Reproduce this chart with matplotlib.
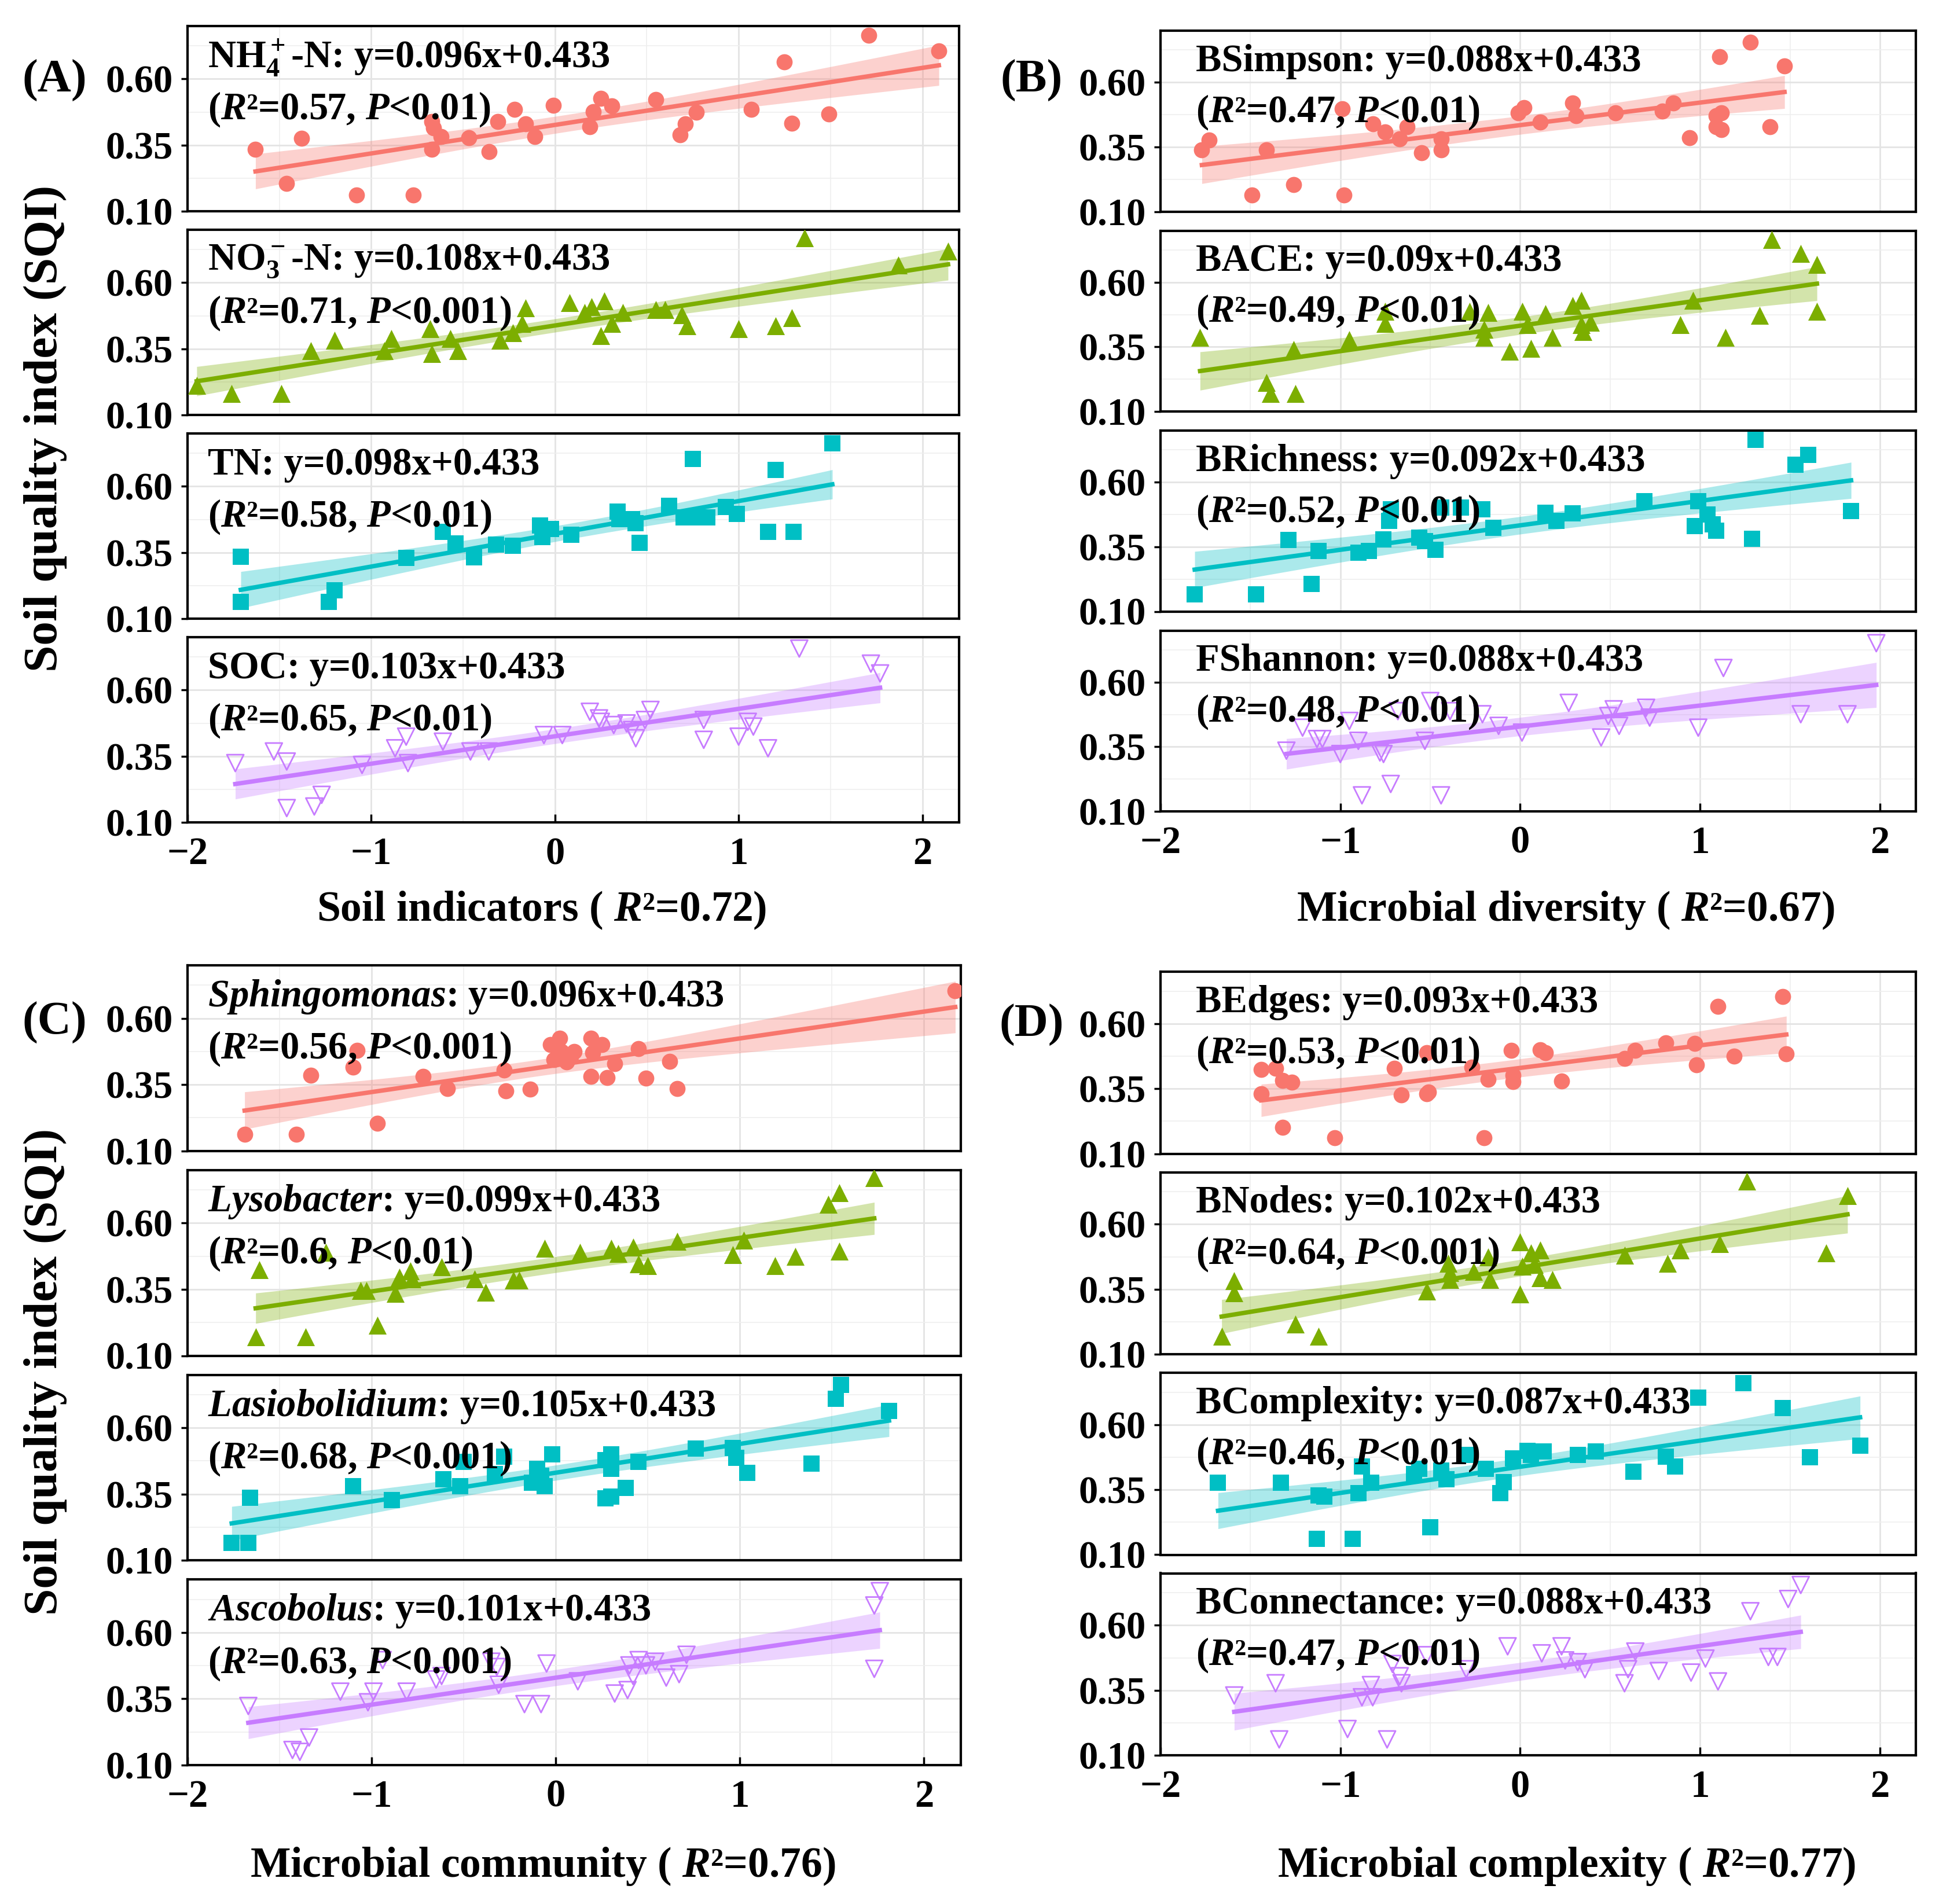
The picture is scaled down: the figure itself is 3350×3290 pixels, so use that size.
import matplotlib
matplotlib.use("Agg")
import matplotlib.pyplot as plt
import numpy as np

plt.rcParams['font.family'] = ['Liberation Serif', 'DejaVu Serif']
plt.rcParams['font.weight'] = 'bold'
plt.rcParams['mathtext.fontset'] = 'custom'
plt.rcParams['mathtext.rm'] = 'Liberation Serif:bold'
plt.rcParams['mathtext.it'] = 'Liberation Serif:italic:bold'
plt.rcParams['mathtext.bf'] = 'Liberation Serif:bold'

# ---- data (x = indicator score, y = SQI) ----
# (A) soil indicators
nh4_x = [-1.63, -1.46, -1.38, -1.08, -0.77, -0.67, -0.66, -0.62, -0.67, -0.47, -0.36, -0.31, -0.22, -0.16, -0.11,
         -0.01, 0.19, 0.21, 0.25, 0.31, 0.55, 0.68, 0.71, 0.77, 1.07, 1.25, 1.29, 1.49, 1.71, 2.09]
nh4_y = [0.335, 0.204, 0.375, 0.162, 0.162, 0.44, 0.414, 0.383, 0.335, 0.377, 0.325, 0.44, 0.484, 0.43, 0.383,
         0.50, 0.419, 0.477, 0.527, 0.498, 0.522, 0.389, 0.43, 0.475, 0.484, 0.664, 0.432, 0.467, 0.764, 0.705]
no3_x = [-1.95, -1.76, -1.49, -1.33, -1.20, -0.93, -0.89, -0.68, -0.67, -0.57, -0.53, -0.30, -0.23, -0.18, -0.16,
         0.08, 0.16, 0.20, 0.27, 0.25, 0.31, 0.37, 0.55, 0.60, 0.69, 0.72, 1.00, 1.20, 1.29, 1.36, 1.87, 2.14]
no3_y = [0.211, 0.18, 0.18, 0.342, 0.383, 0.342, 0.389, 0.425, 0.331, 0.389, 0.342, 0.383, 0.41, 0.446, 0.504,
         0.525, 0.488, 0.509, 0.53, 0.40, 0.446, 0.488, 0.499, 0.499, 0.478, 0.436, 0.425, 0.436, 0.467, 0.77, 0.666, 0.718]
tn_x = [-1.71, -1.71, -1.23, -1.20, -0.81, -0.61, -0.54, -0.44, -0.32, -0.23, -0.08, -0.07, -0.02, 0.09, 0.34,
        0.35, 0.42, 0.44, 0.46, 0.62, 0.70, 0.75, 0.76, 0.83, 0.93, 0.99, 1.16, 1.20, 1.30, 1.51]
tn_y = [0.335, 0.163, 0.163, 0.207, 0.329, 0.429, 0.385, 0.332, 0.379, 0.376, 0.452, 0.408, 0.439, 0.417, 0.505,
        0.477, 0.477, 0.462, 0.386, 0.527, 0.483, 0.703, 0.483, 0.483, 0.523, 0.496, 0.429, 0.663, 0.429, 0.762]
soc_x = [-1.74, -1.53, -1.46, -1.46, -1.31, -1.27, -1.05, -0.87, -0.81, -0.80, -0.61, -0.46, -0.36, -0.06, 0.04,
         0.19, 0.24, 0.25, 0.32, 0.39, 0.42, 0.44, 0.49, 0.52, 0.81, 0.81, 1.00, 1.05, 1.08, 1.16, 1.33, 1.72, 1.77]
soc_y = [0.324, 0.368, 0.33, 0.154, 0.16, 0.204, 0.317, 0.38, 0.424, 0.324, 0.405, 0.368, 0.368, 0.43, 0.43,
         0.518, 0.493, 0.48, 0.468, 0.474, 0.449, 0.418, 0.487, 0.525, 0.487, 0.412, 0.424, 0.48, 0.462, 0.38, 0.757, 0.70, 0.663]

# (B) microbial diversity
bsim_x = [-1.77, -1.73, -1.49, -1.41, -1.26, -0.99, -0.98, -0.82, -0.75, -0.67, -0.63, -0.55, -0.44, -0.44, -0.01,
          0.02, 0.11, 0.29, 0.31, 0.53, 0.79, 0.85, 0.94, 1.09, 1.11, 1.12, 1.09, 1.12, 1.28, 1.39, 1.47]
bsim_y = [0.338, 0.376, 0.163, 0.338, 0.205, 0.498, 0.163, 0.44, 0.407, 0.381, 0.429, 0.328, 0.338, 0.381, 0.482,
          0.503, 0.445, 0.521, 0.471, 0.482, 0.489, 0.519, 0.386, 0.471, 0.70, 0.482, 0.429, 0.418, 0.755, 0.429, 0.663]
bace_x = [-1.78, -1.41, -1.39, -1.25, -1.26, -0.95, -0.75, -0.75, -0.28, -0.18, -0.20, -0.20, -0.06, 0.01, 0.04,
          0.06, 0.14, 0.18, 0.29, 0.34, 0.34, 0.35, 0.39, 0.89, 0.96, 1.14, 1.33, 1.40, 1.56, 1.65, 1.65]
bace_y = [0.387, 0.212, 0.169, 0.169, 0.339, 0.377, 0.44, 0.488, 0.488, 0.483, 0.419, 0.387, 0.334, 0.488, 0.435,
          0.345, 0.478, 0.387, 0.51, 0.531, 0.435, 0.409, 0.446, 0.435, 0.531, 0.387, 0.472, 0.765, 0.712, 0.669, 0.488]
brich_x = [-1.81, -1.47, -1.16, -1.29, -1.12, -0.90, -0.84, -0.76, -0.73, -0.72, -0.56, -0.53, -0.47, -0.44, -0.33,
           -0.21, -0.15, 0.14, 0.20, 0.29, 0.69, 0.99, 0.97, 1.04, 1.07, 1.09, 1.29, 1.31, 1.53, 1.60, 1.84]
brich_y = [0.165, 0.165, 0.206, 0.377, 0.335, 0.328, 0.335, 0.379, 0.45, 0.495, 0.386, 0.373, 0.338, 0.501, 0.501,
           0.495, 0.424, 0.482, 0.45, 0.479, 0.527, 0.527, 0.431, 0.476, 0.437, 0.412, 0.382, 0.764, 0.668, 0.706, 0.488]
fsha_x = [-1.30, -1.21, -1.13, -1.10, -1.00, -0.95, -0.90, -0.88, -0.78, -0.76, -0.72, -0.68, -0.53, -0.50, -0.44,
          -0.39, -0.21, -0.12, 0.01, 0.27, 0.45, 0.49, 0.52, 0.55, 0.70, 0.72, 0.99, 1.13, 1.56, 1.82, 1.98]
fsha_y = [0.335, 0.424, 0.38, 0.38, 0.322, 0.45, 0.373, 0.162, 0.328, 0.322, 0.206, 0.488, 0.373, 0.527, 0.162,
          0.488, 0.476, 0.431, 0.405, 0.52, 0.386, 0.469, 0.495, 0.431, 0.501, 0.463, 0.424, 0.655, 0.476, 0.476, 0.751]

# (C) microbial community
sphi_x = [-1.69, -1.41, -1.33, -1.10, -1.08, -0.97, -0.72, -0.59, -0.28, -0.27, -0.14, -0.03, 0.02, -0.01, 0.03,
          0.06, 0.08, 0.10, 0.19, 0.19, 0.20, 0.25, 0.28, 0.32, 0.45, 0.49, 0.62, 0.66, 2.17]
sphi_y = [0.162, 0.162, 0.385, 0.415, 0.48, 0.205, 0.38, 0.335, 0.405, 0.327, 0.332, 0.50, 0.525, 0.445, 0.475,
          0.435, 0.455, 0.475, 0.525, 0.38, 0.47, 0.50, 0.377, 0.43, 0.485, 0.375, 0.437, 0.335, 0.705]
lyso_x = [-1.63, -1.61, -1.36, -1.25, -1.06, -1.03, -0.97, -0.87, -0.85, -0.79, -0.78, -0.62, -0.44, -0.38, -0.23,
          -0.20, -0.06, 0.13, 0.30, 0.34, 0.42, 0.45, 0.50, 0.66, 0.96, 1.02, 1.19, 1.30, 1.48, 1.54, 1.54, 1.73]
lyso_y = [0.17, 0.425, 0.17, 0.49, 0.345, 0.345, 0.215, 0.335, 0.395, 0.42, 0.39, 0.435, 0.39, 0.34, 0.385,
          0.385, 0.505, 0.49, 0.505, 0.485, 0.51, 0.445, 0.44, 0.53, 0.48, 0.535, 0.44, 0.475, 0.67, 0.715, 0.495, 0.77]
lasi_x = [-1.76, -1.67, -1.66, -1.10, -0.89, -0.61, -0.52, -0.50, -0.33, -0.28, -0.13, -0.10, -0.08, -0.06, -0.02,
          0.27, 0.30, 0.27, 0.30, 0.30, 0.38, 0.45, 0.76, 0.96, 0.98, 1.04, 1.39, 1.52, 1.55, 1.81]
lasi_y = [0.166, 0.166, 0.337, 0.38, 0.328, 0.407, 0.38, 0.472, 0.426, 0.492, 0.393, 0.446, 0.42, 0.38, 0.499,
          0.334, 0.341, 0.479, 0.499, 0.446, 0.374, 0.472, 0.521, 0.525, 0.486, 0.429, 0.466, 0.709, 0.762, 0.663]
asco_x = [-1.67, -1.43, -1.39, -1.34, -1.17, -1.02, -0.99, -0.94, -0.81, -0.65, -0.62, -0.35, -0.31, -0.32, -0.17,
          -0.08, -0.05, 0.12, 0.32, 0.39, 0.40, 0.42, 0.45, 0.49, 0.54, 0.60, 0.67, 0.71, 1.73, 1.73, 1.76]
asco_y = [0.323, 0.157, 0.15, 0.204, 0.377, 0.337, 0.377, 0.496, 0.377, 0.423, 0.436, 0.49, 0.403, 0.47, 0.33,
          0.33, 0.483, 0.416, 0.37, 0.383, 0.476, 0.436, 0.496, 0.476, 0.49, 0.43, 0.443, 0.516, 0.463, 0.702, 0.756]

# (D) microbial complexity
bedg_x = [-1.44, -1.44, -1.36, -1.32, -1.27, -1.32, -1.03, -0.70, -0.66, -0.52, -0.51, -0.52, -0.27, -0.18, -0.20,
          -0.05, -0.04, -0.04, 0.11, 0.14, 0.23, 0.58, 0.64, 0.81, 0.97, 0.98, 1.10, 1.19, 1.46, 1.48]
bedg_y = [0.423, 0.33, 0.428, 0.382, 0.374, 0.202, 0.161, 0.428, 0.325, 0.33, 0.336, 0.489, 0.433, 0.387, 0.161,
          0.497, 0.402, 0.377, 0.50, 0.489, 0.38, 0.466, 0.497, 0.527, 0.525, 0.441, 0.667, 0.474, 0.705, 0.484]
bnod_x = [-1.66, -1.59, -1.59, -1.25, -1.12, -0.52, -0.40, -0.39, -0.39, -0.26, -0.18, -0.17, 0.00, 0.00, 0.01,
          0.06, 0.08, 0.11, 0.11, 0.18, 0.58, 0.82, 0.89, 1.11, 1.26, 1.70, 1.82]
bnod_y = [0.169, 0.383, 0.337, 0.215, 0.169, 0.342, 0.449, 0.414, 0.388, 0.419, 0.475, 0.388, 0.531, 0.332, 0.439,
          0.49, 0.444, 0.50, 0.393, 0.388, 0.48, 0.449, 0.50, 0.526, 0.765, 0.49, 0.709]
bcom_x = [-1.68, -1.33, -1.13, -1.12, -1.09, -0.93, -0.90, -0.88, -0.83, -0.59, -0.56, -0.50, -0.44, -0.41, -0.30,
          -0.19, -0.11, -0.09, -0.04, 0.04, 0.06, 0.13, 0.32, 0.42, 0.63, 0.81, 0.86, 0.99, 1.24, 1.46, 1.61, 1.89]
bcom_y = [0.376, 0.376, 0.162, 0.329, 0.323, 0.162, 0.336, 0.439, 0.376, 0.41, 0.43, 0.206, 0.423, 0.39, 0.483,
          0.43, 0.336, 0.38, 0.47, 0.50, 0.483, 0.497, 0.483, 0.497, 0.42, 0.477, 0.439, 0.705, 0.761, 0.664, 0.474, 0.52]
bcon_x = [-1.59, -1.36, -1.34, -0.96, -0.88, -0.83, -0.82, -0.74, -0.71, -0.67, -0.66, -0.52, -0.30, -0.07, 0.12,
          0.23, 0.25, 0.32, 0.36, 0.58, 0.60, 0.64, 0.77, 0.95, 1.03, 1.10, 1.28, 1.38, 1.43, 1.49, 1.56]
bcon_y = [0.33, 0.377, 0.161, 0.201, 0.323, 0.37, 0.323, 0.161, 0.451, 0.404, 0.377, 0.485, 0.431, 0.519, 0.492,
          0.519, 0.465, 0.458, 0.431, 0.377, 0.431, 0.499, 0.424, 0.418, 0.472, 0.384, 0.654, 0.478, 0.478, 0.701, 0.755]

names = [
    ["NH$_4^+$-N: y=0.096x+0.433", "NO$_3^-$-N: y=0.108x+0.433", "TN: y=0.098x+0.433", "SOC: y=0.103x+0.433"],
    ["BSimpson: y=0.088x+0.433", "BACE: y=0.09x+0.433", "BRichness: y=0.092x+0.433", "FShannon: y=0.088x+0.433"],
    ["$Sphingomonas$: y=0.096x+0.433", "$Lysobacter$: y=0.099x+0.433",
     "$Lasiobolidium$: y=0.105x+0.433", "$Ascobolus$: y=0.101x+0.433"],
    ["BEdges: y=0.093x+0.433", "BNodes: y=0.102x+0.433", "BComplexity: y=0.087x+0.433", "BConnectance: y=0.088x+0.433"],
]
stats = [
    ["0.57, $P$<0.01", "0.71, $P$<0.001", "0.58, $P$<0.01", "0.65, $P$<0.01"],
    ["0.47, $P$<0.01", "0.49, $P$<0.01", "0.52, $P$<0.01", "0.48, $P$<0.01"],
    ["0.56, $P$<0.001", "0.6, $P$<0.01", "0.68, $P$<0.001", "0.63, $P$<0.001"],
    ["0.53, $P$<0.01", "0.64, $P$<0.001", "0.46, $P$<0.01", "0.47, $P$<0.01"],
]
xlabels = ["Soil indicators ( $R$\u00b2=0.72)", "Microbial diversity ( $R$\u00b2=0.67)",
           "Microbial community ( $R$\u00b2=0.76)", "Microbial complexity ( $R$\u00b2=0.77)"]
panel_tags = ["(A)", "(B)", "(C)", "(D)"]
y_ticks = [0.10, 0.35, 0.60]
x_ticks = [-2, -1, 0, 1, 2]

data = [
    [(nh4_x, nh4_y), (no3_x, no3_y), (tn_x, tn_y), (soc_x, soc_y)],
    [(bsim_x, bsim_y), (bace_x, bace_y), (brich_x, brich_y), (fsha_x, fsha_y)],
    [(sphi_x, sphi_y), (lyso_x, lyso_y), (lasi_x, lasi_y), (asco_x, asco_y)],
    [(bedg_x, bedg_y), (bnod_x, bnod_y), (bcom_x, bcom_y), (bcon_x, bcon_y)],
]

colors = ['#F8766D', '#7CAE00', '#00BFC4', '#C77CFF']
markers = ['o', '^', 's', 'v']

W, H = 3350, 3290
# panel boxes in pixels: left, right, top, bottom, gap
boxes = [(324, 1657, 45, 1421, 32), (2005, 3310, 53, 1402, 33),
         (324, 1660, 1668, 3050, 33), (2005, 3310, 1679, 3033, 32)]
text_x = [0.026, 0.047, 0.026, 0.047]
xlab_pos = [(936, 1573), (2705, 1573), (938, 3225), (2707, 3225)]
tag_pos = [(94, 139), (1782, 139), (94, 1767), (1782, 1771)]

fig = plt.figure(figsize=(W / 100, H / 100), dpi=100)


def fit_band(x, y):
    x = np.asarray(x)
    y = np.asarray(y)
    n = len(x)
    b, a = np.polyfit(x, y, 1)
    xs = np.linspace(x.min(), x.max(), 100)
    resid = y - (a + b * x)
    s = np.sqrt(np.sum(resid ** 2) / (n - 2))
    sxx = np.sum((x - x.mean()) ** 2)
    se = s * np.sqrt(1.0 / n + (xs - x.mean()) ** 2 / sxx)
    return xs, a + b * xs, 2.04 * se


for p in range(4):
    left, right, top, bottom, gap = boxes[p]
    h = (bottom - top - 3 * gap) / 4.0
    for k in range(4):
        t = top + k * (h + gap)
        ax = fig.add_axes([left / W, 1 - (t + h) / H, (right - left) / W, h / H])
        x, y = data[p][k]
        xs, yfit, ci = fit_band(x, y)
        ax.fill_between(xs, yfit - ci, yfit + ci, color=colors[k], alpha=0.33, lw=0, zorder=2)
        ax.plot(xs, yfit, color=colors[k], lw=5.5, zorder=3)
        if markers[k] == 'v':
            ax.scatter(x, y, s=440, marker='v', facecolors='none', edgecolors=colors[k], linewidths=2, zorder=4)
        else:
            ax.scatter(x, y, s=400 if markers[k] != '^' else 500, marker=markers[k],
                       color=colors[k], linewidths=0, zorder=4)
        ax.set_xlim(-1.99, 2.2)
        ax.set_ylim(0.10, 0.80)
        ax.set_yticks(y_ticks)
        ax.set_yticks([0.225, 0.475, 0.725], minor=True)
        ax.set_xticks(x_ticks)
        ax.set_xticks([-1.5, -0.5, 0.5, 1.5], minor=True)
        ax.grid(True, which='major', color='#E4E4E4', lw=2.0, zorder=0)
        ax.grid(True, which='minor', color='#EFEFEF', lw=1.2, zorder=0)
        ax.set_axisbelow(True)
        ax.set_yticklabels(["0.10", "0.35", "0.60"], fontsize=48)
        ax.tick_params(axis='y', which='major', direction='out', length=8, width=2.5, pad=10)
        ax.tick_params(which='minor', length=0)
        if k == 3:
            ax.set_xticklabels(["\u22122", "\u22121", "0", "1", "2"], fontsize=48)
            ax.tick_params(axis='x', which='major', direction='in', length=10, width=2.5, pad=18)
        else:
            ax.set_xticklabels([])
            ax.tick_params(axis='x', which='major', length=0)
        for sp in ax.spines.values():
            sp.set_linewidth(3)
            sp.set_color('black')
        ax.text(text_x[p], 0.83, names[p][k], transform=ax.transAxes, fontsize=48,
                ha='left', va='center', zorder=5)
        ax.text(text_x[p], 0.55, "($R$\u00b2=" + stats[p][k] + ")", transform=ax.transAxes, fontsize=48,
                ha='left', va='center', zorder=5)

    fig.text(xlab_pos[p][0] / W, 1 - xlab_pos[p][1] / H, xlabels[p], fontsize=53,
             ha='center', va='center')
    fig.text(tag_pos[p][0] / W, 1 - tag_pos[p][1] / H, panel_tags[p], fontsize=58,
             ha='center', va='center')

for yc in [740, 2370]:
    fig.text(78 / W, 1 - yc / H, "Soil quality index (SQI)", fontsize=60, rotation=90,
             ha='center', va='center')

fig.savefig("out.png", dpi=100, facecolor='white')
